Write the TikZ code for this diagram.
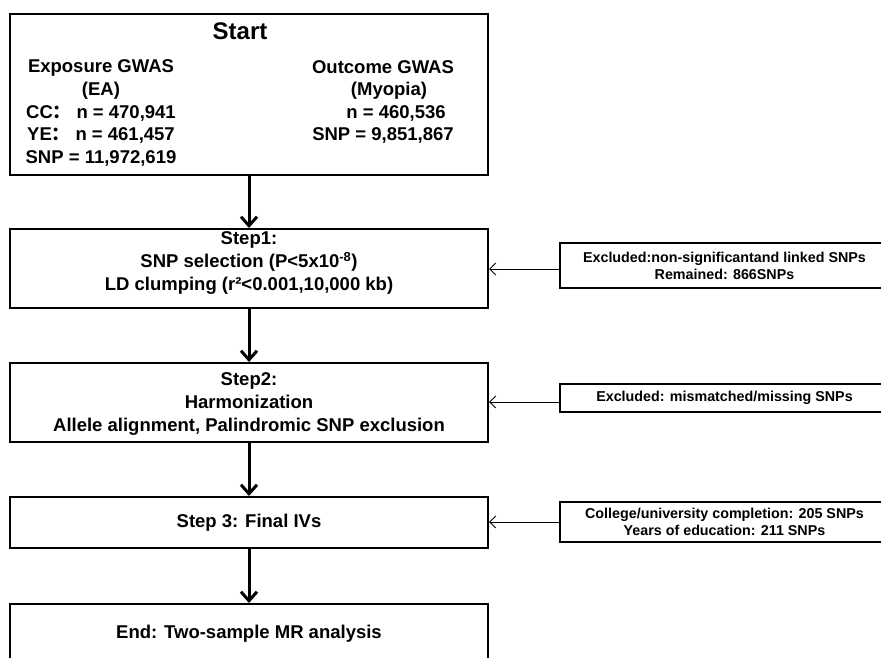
\documentclass[tikz,border=0pt]{standalone}
\usepackage{fontspec}
\setmainfont{Liberation Sans}
\newfontfamily\cjkfont{Noto Sans CJK SC}
\usetikzlibrary{arrows.meta}
\begin{document}
\begin{tikzpicture}[x=1pt,y=-1pt,
  mainbox/.style={draw, line width=2pt, minimum width=478pt, inner sep=0pt},
  sidebox/.style={draw, line width=2.3pt, minimum width=329pt, inner sep=0pt, font=\bfseries\fontsize{14.3}{17}\selectfont, align=center},
  maintxt/.style={font=\bfseries\fontsize{18.5}{22.6}\selectfont, align=center, inner sep=0pt},
  flow/.style={line width=3pt, -{Straight Barb[length=9pt,width=16pt,line width=3pt]}},
  feed/.style={line width=1pt, -{Straight Barb[length=6pt,width=12pt,line width=1pt]}},
]
\useasboundingbox (0,0) rectangle (881,658);
\fill[white] (0,0) rectangle (881,658);
\clip (0,0) rectangle (881,658);

% main boxes
\node[mainbox, minimum height=161pt] (start) at (249,94.5) {};
\node[mainbox, minimum height=79pt] (s1) at (249,268.5) {};
\node[mainbox, minimum height=79pt] (s2) at (249,402.5) {};
\node[mainbox, minimum height=51pt] (s3) at (249,522.5) {};
\node[mainbox, minimum height=100pt] (end) at (249,654) {};

% texts of the main boxes
\node[maintxt, font=\bfseries\fontsize{24}{28}\selectfont] (tstart) at (240,31) {Start};
\node[maintxt] (texp) at (101,113) {Exposure GWAS\\(EA)\\CC{\cjkfont ：} n = 470,941\\YE{\cjkfont ：} n = 461,457\\SNP = 11,972,619};
\node[maintxt] (tout) at (383,102) {Outcome GWAS\\\hspace*{12pt}(Myopia)\\\hspace*{26pt}n = 460,536\\SNP = 9,851,867};
\node[maintxt] (ts1) at (249,263) {Step1:\\SNP selection (P<5x10\textsuperscript{-8})\\LD clumping (r²<0.001,10,000 kb)};
\node[maintxt] (ts2) at (249,404) {Step2:\\Harmonization\\Allele alignment, Palindromic SNP exclusion};
\node[maintxt] (ts3) at (249,523) {Step 3: Final IVs};
\node[maintxt] (tend) at (249,634) {End: Two-sample MR analysis};

% side boxes
\node[sidebox, minimum height=45pt] (r1) at (724.5,265.5) {Excluded:non-significantand linked SNPs\\Remained: 866SNPs};
\node[sidebox, minimum height=28pt] (r2) at (724.5,398) {Excluded: mismatched/missing SNPs};
\node[sidebox, minimum height=40pt] (r3) at (724.5,522) {College/university completion: 205 SNPs\\Years of education: 211 SNPs};

% flow arrows
\draw[flow] (start.south) -- (s1.north);
\draw[flow] (s1.south) -- (s2.north);
\draw[flow] (s2.south) -- (s3.north);
\draw[flow] (s3.south) -- (end.north);

% feedback arrows
\coordinate (f1) at ([yshift=-3.5pt]r1.west);
\coordinate (f2) at ([yshift=-4pt]r2.west);
\coordinate (f3) at (r3.west);
\draw[feed] (f1) -- (f1 -| s1.east);
\draw[feed] (f2) -- (f2 -| s2.east);
\draw[feed] (f3) -- (f3 -| s3.east);
\end{tikzpicture}
\end{document}
